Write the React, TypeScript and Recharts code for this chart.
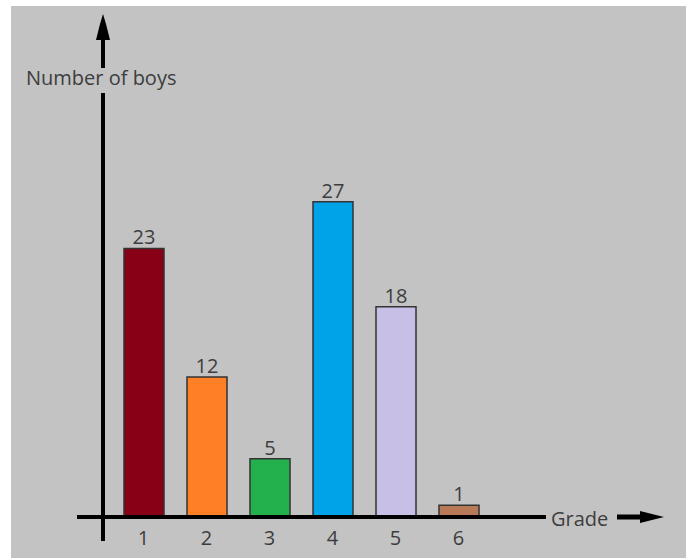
import { BarChart, Bar, XAxis, YAxis, Cell, LabelList } from 'recharts';

const grades = ['1', '2', '3', '4', '5', '6'];
const boys = [23, 12, 5, 27, 18, 1];
const barColors = ['#880015', '#ff7f27', '#22b14c', '#00a2e8', '#c8bfe7', '#b97a57'];

const W = 686;
const H = 558;
const textColor = '#3d3d3d';

// axis decorations (arrows), the chart itself is placed so its baseline sits on y=517
function Axes() {
  return (
    <svg width={W} height={H} style={{ position: 'absolute', left: 0, top: 0, pointerEvents: 'none' }}>
      {/* y axis */}
      <line x1={103} y1={30} x2={103} y2={68} stroke="#000" strokeWidth={4} />
      <line x1={103} y1={93} x2={103} y2={541} stroke="#000" strokeWidth={4} />
      <path d="M103,14 L106,24 L110,40 L96,40 L100,24 Z" fill="#000" />
      {/* x axis */}
      <line x1={77} y1={517} x2={546} y2={517} stroke="#000" strokeWidth={4} />
      <line x1={617} y1={517} x2={642} y2={517} stroke="#000" strokeWidth={5} />
      <path d="M664,517 L652,514 L640,511 L640,523 L652,520 Z" fill="#000" />
      <text x={26} y={85} fontSize={20} fill={textColor}>Number of boys</text>
      <text x={551} y={526} fontSize={20} fill={textColor}>Grade</text>
    </svg>
  );
}

export default function App() {
  const data = grades.map((g, i) => ({ grade: g, boys: boys[i] }));

  return (
    <div style={{ position: 'absolute', left: 0, top: 0, width: W, height: H, background: '#fff', fontFamily: '"Open Sans", sans-serif' }}>
      <div style={{ position: 'absolute', left: 11, top: 6, right: 0, bottom: 0, background: '#c3c3c3' }} />
      <div style={{ position: 'absolute', left: 0, top: 0 }}>
        <BarChart width={W} height={H} data={data} margin={{ top: 50, right: 196, bottom: 0, left: 112 }}>
          <XAxis
            dataKey="grade"
            axisLine={false}
            tickLine={false}
            tickMargin={8}
            height={41}
            tick={{ fontSize: 20, fill: textColor }}
          />
          <YAxis hide domain={[0, 40]} />
          <Bar dataKey="boys" barSize={40} stroke="#333" strokeWidth={1.5} isAnimationActive={false}>
            {data.map((d, i) => (
              <Cell key={d.grade} fill={barColors[i]} />
            ))}
            <LabelList dataKey="boys" position="top" offset={4} style={{ fontSize: 20, fill: textColor }} />
          </Bar>
        </BarChart>
      </div>
      <Axes />
    </div>
  );
}
